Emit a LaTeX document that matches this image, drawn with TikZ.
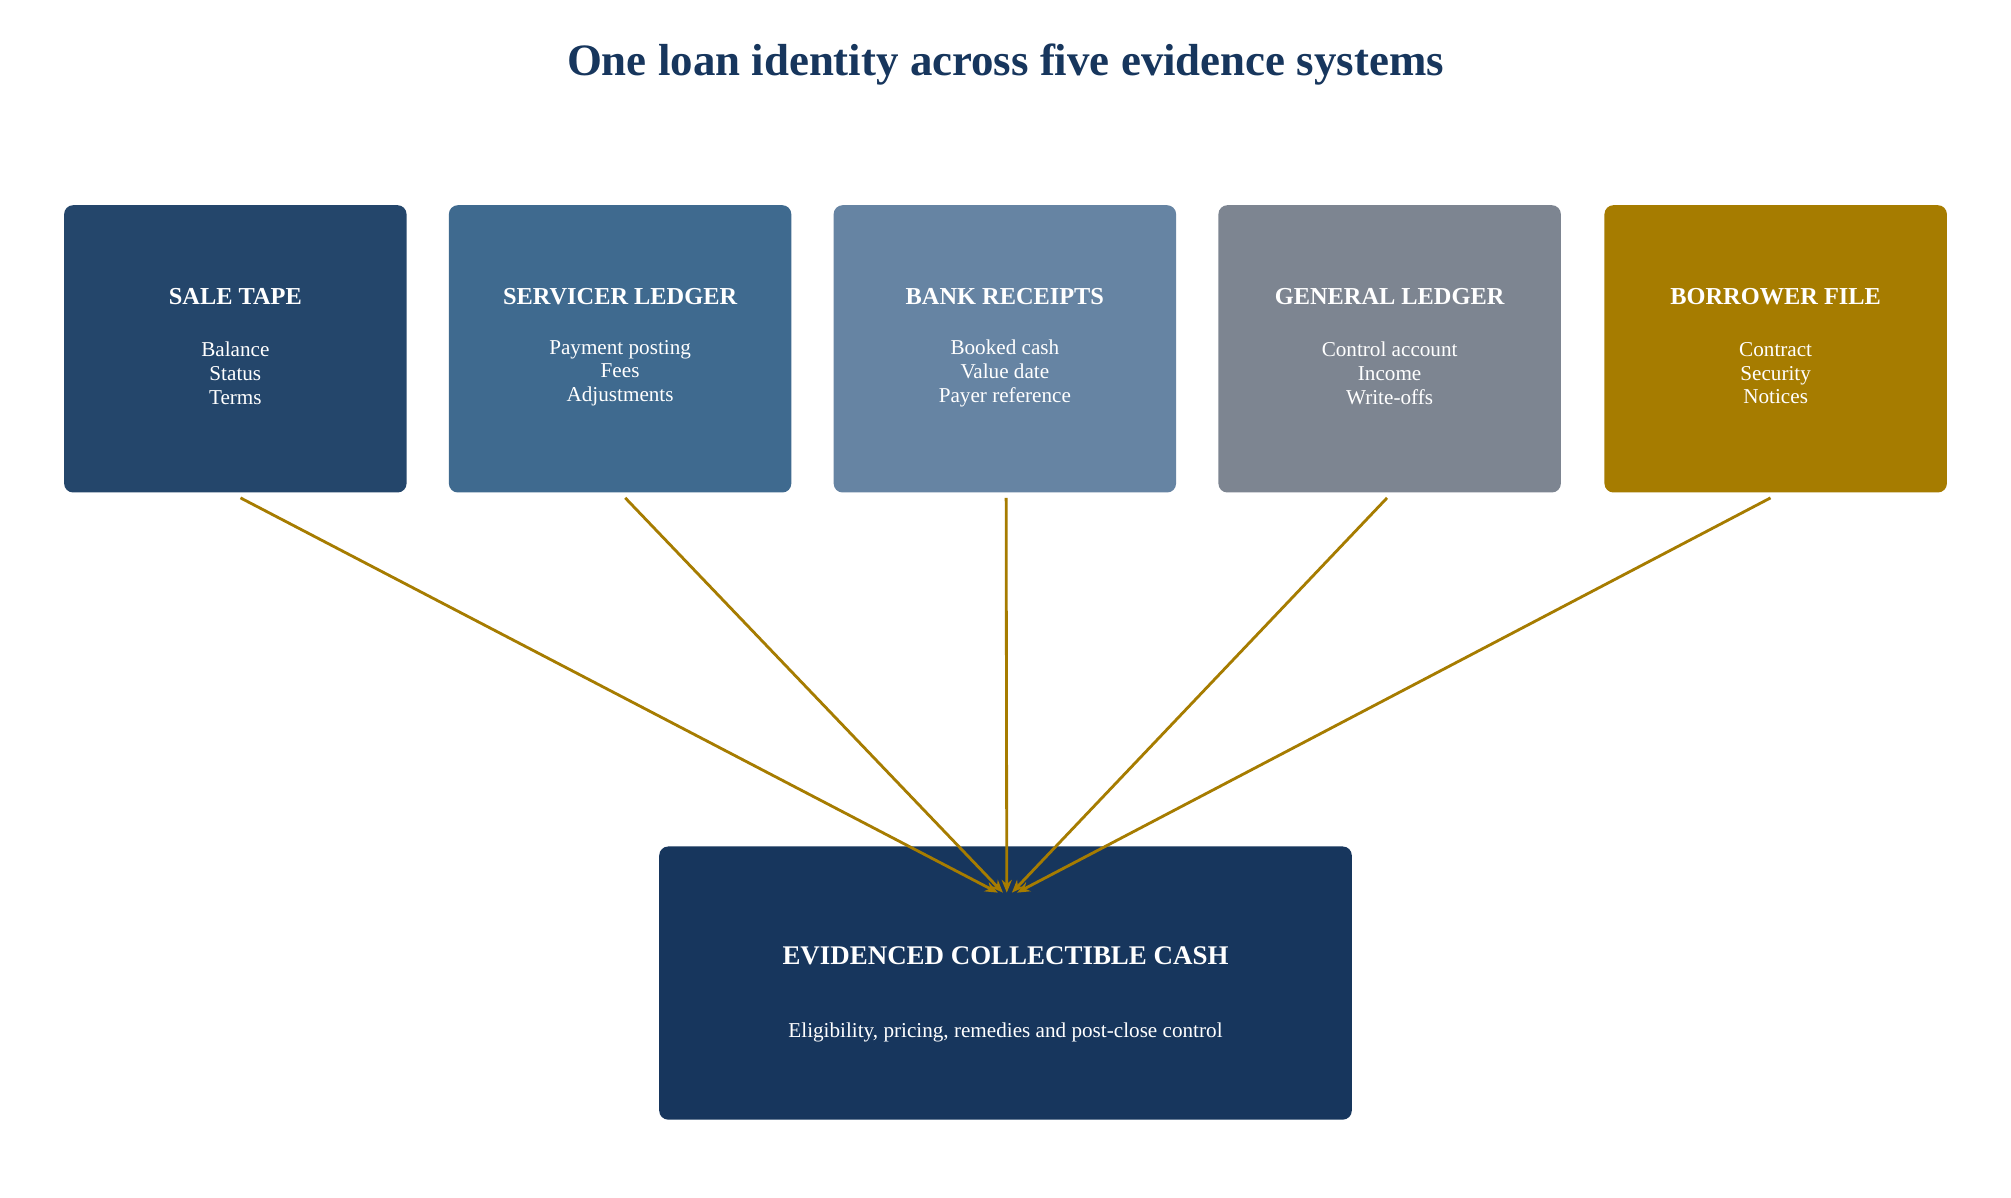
\documentclass[tikz,border=0pt]{standalone}
\usepackage{fontspec}
\setmainfont{Liberation Serif}
\usetikzlibrary{arrows.meta}
\definecolor{c1}{HTML}{24466B}
\definecolor{c2}{HTML}{3F6A8F}
\definecolor{c3}{HTML}{6684A3}
\definecolor{c4}{HTML}{7D8591}
\definecolor{c5}{HTML}{A67C00}
\definecolor{cb}{HTML}{17365D}
\definecolor{arr}{HTML}{A67C00}
\begin{document}
\begin{tikzpicture}[x=1pt,y=-1pt,
  box/.style={rounded corners=7pt,draw=none,minimum width=267pt,minimum height=224pt,inner sep=0pt},
  ttl/.style={text=white,font=\fontsize{19}{22}\selectfont\bfseries},
  bdy/.style={text=white,align=center,font=\fontsize{16.5}{18.5}\selectfont},
  con/.style={draw=arr,line width=2.2pt,-{Stealth[length=10pt,width=8pt]}}]
\useasboundingbox[fill=white] (0,0) rectangle (1568,934);
\node[text={cb},font=\fontsize{35}{40}\selectfont\bfseries] (title) at (784,50) {One loan identity across five evidence systems};
\foreach \n/\x/\c/\t/\b in {a/183.5/c1/SALE TAPE/{Balance\\Status\\Terms},
  b/483.5/c2/SERVICER LEDGER/{Payment posting\\Fees\\Adjustments},
  c/783.5/c3/BANK RECEIPTS/{Booked cash\\Value date\\Payer reference},
  d/1083.5/c4/GENERAL LEDGER/{Control account\\Income\\Write-offs},
  e/1384.5/c5/BORROWER FILE/{Contract\\Security\\Notices}}{
  \node[box,fill=\c] (\n) at (\x,272) {};
  \node[ttl] (\n t) at (\x,231) {\t};
  \node[bdy] (\n b) at (\x,291) {\b};
}
\node[box,fill=cb,minimum width=540pt,minimum height=213pt] (z) at (784,766.5) {};
\node[ttl,font=\fontsize{21}{24}\selectfont\bfseries] (zt) at (784,745) {EVIDENCED COLLECTIBLE CASH};
\node[bdy] (zb) at (784,805) {Eligibility, pricing, remedies and post-close control};
\coordinate (t1) at (778,696);
\coordinate (t2) at (782,696);
\coordinate (t3) at (785,696);
\coordinate (t4) at (789,696);
\coordinate (t5) at (793,696);
\draw[con] ([shift={(4,4)}]a.south) -- (t1);
\draw[con] ([shift={(4,4)}]b.south) -- (t2);
\draw[con] ([shift={(1,4)}]c.south) -- (t3);
\draw[con] ([shift={(-2,4)}]d.south) -- (t4);
\draw[con] ([shift={(-4,4)}]e.south) -- (t5);
\end{tikzpicture}
\end{document}
